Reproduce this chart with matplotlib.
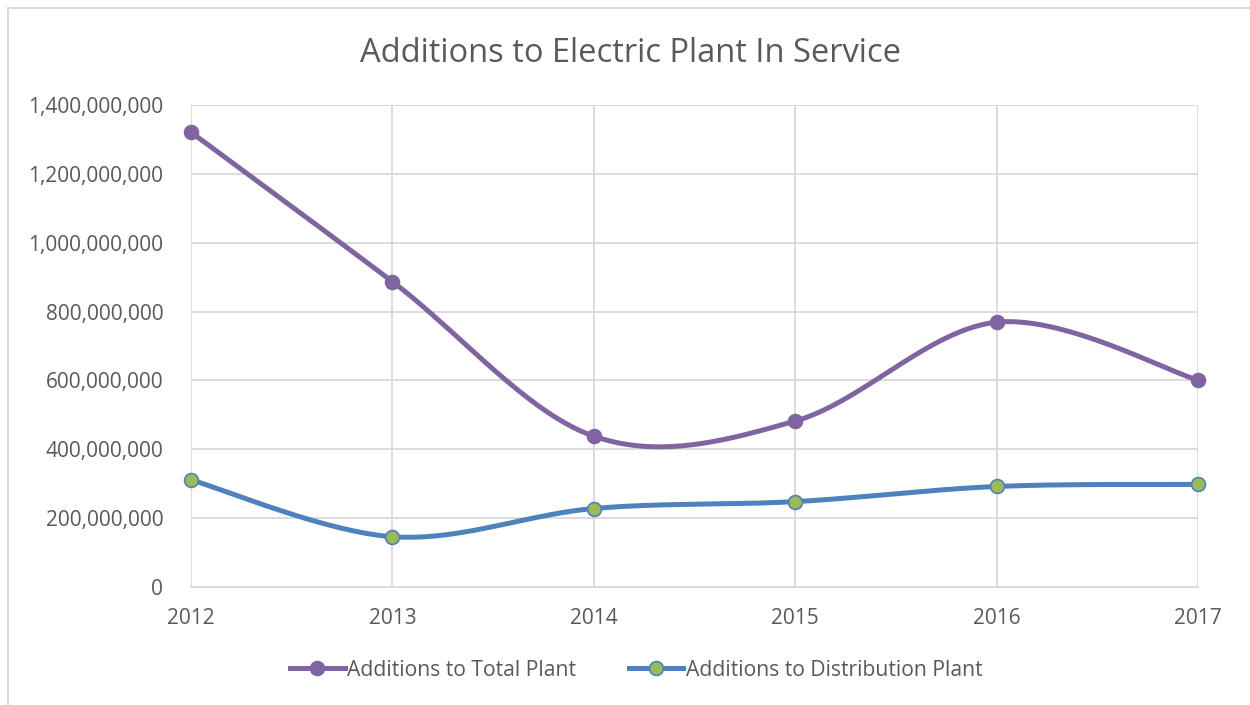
import matplotlib
matplotlib.use("Agg")
import matplotlib.pyplot as plt
import numpy as np
from matplotlib.ticker import FuncFormatter
from matplotlib.lines import Line2D

years = [2012, 2013, 2014, 2015, 2016, 2017]
total_plant = [1321e6, 887e6, 438e6, 482e6, 769e6, 601e6]
distribution_plant = [311e6, 146e6, 228e6, 248e6, 292e6, 298e6]
y_ticks = [0, 200e6, 400e6, 600e6, 800e6, 1000e6, 1200e6, 1400e6]

TXT = "#595959"
GRID = "#D9D9D9"
PURPLE = "#8064A2"
BLUE = "#4F81BD"
GREEN = "#9BBB59"
FONT = ["Open Sans", "DejaVu Sans"]


def smooth(xs, ys, n=40):
    """Excel-style smoothing: cubic Bezier between points, control points from neighbours."""
    xs = np.asarray(xs, float)
    ys = np.asarray(ys, float)
    px, py = [], []
    m = len(xs)
    for i in range(m - 1):
        p0 = (xs[max(i - 1, 0)], ys[max(i - 1, 0)])
        p1 = (xs[i], ys[i])
        p2 = (xs[i + 1], ys[i + 1])
        p3 = (xs[min(i + 2, m - 1)], ys[min(i + 2, m - 1)])
        c1 = (p1[0] + (p2[0] - p0[0]) / 6, p1[1] + (p2[1] - p0[1]) / 6)
        c2 = (p2[0] - (p3[0] - p1[0]) / 6, p2[1] - (p3[1] - p1[1]) / 6)
        t = np.linspace(0, 1, n)
        bx = (1 - t) ** 3 * p1[0] + 3 * (1 - t) ** 2 * t * c1[0] + 3 * (1 - t) * t ** 2 * c2[0] + t ** 3 * p2[0]
        by = (1 - t) ** 3 * p1[1] + 3 * (1 - t) ** 2 * t * c1[1] + 3 * (1 - t) * t ** 2 * c2[1] + t ** 3 * p2[1]
        px.extend(bx)
        py.extend(by)
    return np.array(px), np.array(py)


fig = plt.figure(figsize=(12.5, 7.05), dpi=100)
# outer chart border (only top and left edges visible in the crop)
fig.add_artist(Line2D([7.5 / 1250, 7.5 / 1250], [0, 1 - 7.5 / 705], transform=fig.transFigure,
                      color=GRID, linewidth=1.5))
fig.add_artist(Line2D([7.5 / 1250, 1], [1 - 7.5 / 705, 1 - 7.5 / 705], transform=fig.transFigure,
                      color=GRID, linewidth=1.5))

ax = fig.add_axes([191 / 1250, 1 - 587 / 705, (1198 - 191) / 1250, (587 - 105) / 705])

x = np.arange(len(years))
for vals, lc, fc, label in [(total_plant, PURPLE, PURPLE, "Additions to Total Plant"),
                            (distribution_plant, BLUE, GREEN, "Additions to Distribution Plant")]:
    sx, sy = smooth(x, vals)
    ax.plot(sx, sy, color=lc, linewidth=3.6, solid_capstyle="round", zorder=3, clip_on=False)
    ax.plot(x, vals, linestyle="none", marker="o", markersize=10,
            markerfacecolor=fc, markeredgecolor=lc, markeredgewidth=1.2, zorder=4, clip_on=False)
    ax.plot([], [], color=lc, linewidth=3.6, marker="o", markersize=10,
            markerfacecolor=fc, markeredgecolor=lc, markeredgewidth=1.2, label=label)

ax.set_xlim(0, len(years) - 1)
ax.set_ylim(0, 1400e6)
ax.set_xticks(x)
ax.set_xticklabels([str(y) for y in years])
ax.set_yticks(y_ticks)
ax.yaxis.set_major_formatter(FuncFormatter(lambda v, p: f"{int(v):,}"))
ax.grid(True, color=GRID, linewidth=1.3)
ax.set_axisbelow(True)
for s in ["top", "right", "left"]:
    ax.spines[s].set_visible(False)
ax.spines["bottom"].set_color(GRID)
ax.spines["bottom"].set_linewidth(1.3)
ax.tick_params(length=0, colors=TXT, labelsize=15)
ax.tick_params(axis="x", pad=15)
ax.tick_params(axis="y", pad=20)
for lab in ax.get_xticklabels() + ax.get_yticklabels():
    lab.set_family(FONT)

fig.text(630 / 1250, 1 - 53 / 705, "Additions to Electric Plant In Service",
         ha="center", va="center", fontsize=23.5, color=TXT, family=FONT)

leg = fig.legend(loc="center", bbox_to_anchor=(636 / 1250, 1 - 670 / 705), ncol=2,
                 frameon=False, handlelength=2.6, handletextpad=0.1, columnspacing=2.5,
                 prop={"family": FONT, "size": 15.2})
for t in leg.get_texts():
    t.set_color(TXT)

fig.savefig("out.png", dpi=100)
